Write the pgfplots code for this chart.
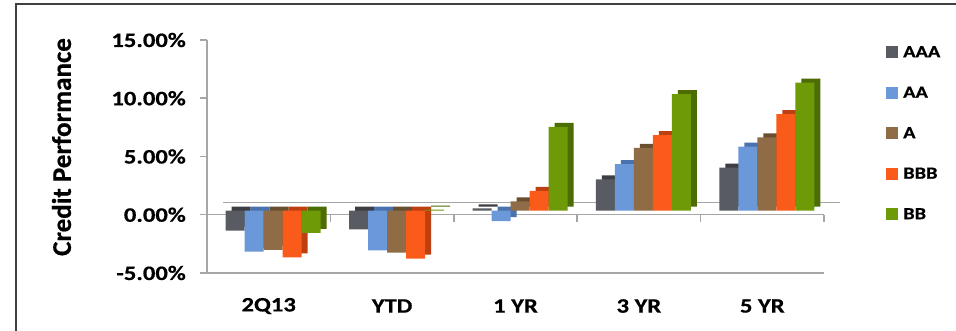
\documentclass[border=0pt]{standalone}
\usepackage{fontspec}
\setmainfont{Carlito}[BoldFeatures={FakeBold=0.6}]
\newfontfamily\widefont{Carlito}[FakeStretch=1.2, BoldFeatures={FakeBold=0.6}]
\usepackage{pgfplots}
\pgfplotsset{compat=1.18}
\definecolor{cAAA}{HTML}{585B61}
\definecolor{cAAAd}{HTML}{3C3E43}
\definecolor{cAA}{HTML}{6B98D8}
\definecolor{cAAd}{HTML}{4A72AE}
\definecolor{cA}{HTML}{8F6C45}
\definecolor{cAd}{HTML}{694E30}
\definecolor{cBBB}{HTML}{FA5A1A}
\definecolor{cBBBd}{HTML}{BE3F0F}
\definecolor{cBB}{HTML}{6F9A08}
\definecolor{cBBd}{HTML}{4C6D04}
\definecolor{axgray}{HTML}{A6A6A6}

\pgfplotstableread{
x AAA AA A BBB BB
0 -1.70 -3.50 -3.35 -4.00 -1.90
1 -1.60 -3.40 -3.60 -4.10 0.10
2 0.20 -0.90 0.80 1.70 7.20
3 2.70 4.00 5.40 6.50 10.00
4 3.70 5.50 6.30 8.30 11.00
}\credit

\begin{document}
\begin{tikzpicture}
\useasboundingbox (0,0) rectangle (956bp,331bp);
\fill[white] (0,0) rectangle (956bp,331bp);
\draw[line width=2bp, black!75] (16bp,-10bp) -- (16bp,327bp) -- (970bp,327bp);
\begin{axis}[
  at={(207bp,58bp)}, anchor=south west, scale only axis,
  width=617bp, height=233bp,
  xmin=-0.5, xmax=4.5, ymin=-5, ymax=15,
  axis x line=bottom, axis y line=left,
  axis line style={-, draw=axgray, line width=1.5bp},
  xtick={0,...,4}, xticklabels={2Q13,YTD,1 YR,3 YR,5 YR},
  x tick style={draw=none},
  ytick={-5,0,5,10,15},
  yticklabel={\pgfmathprintnumber[fixed,fixed zerofill,precision=2]{\tick}\%},
  y tick style={draw=axgray, line width=1.5bp},
  tick align=outside, major tick length=7bp,
  /pgf/number format/assume math mode=true,
  ticklabel style={font=\widefont\bfseries\fontsize{20.5bp}{24bp}\selectfont, inner sep=0pt},
  xticklabel style={anchor=center, yshift=-26bp},
  yticklabel style={anchor=east, xshift=-14bp},
  every axis y label/.style={at={(axis description cs:-0.2358,0.5408)}, rotate=90, anchor=center,
    font=\bfseries\fontsize{27bp}{30bp}\selectfont},
  ylabel={Credit Performance},
  clip=false,
  legend image code/.code={\fill[#1] (0bp,-7bp) rectangle (12bp,5bp);},
  legend cell align=left,
  legend style={at={(axis description cs:1.1005,0.9785)}, anchor=north west,
    draw=none, fill=none, inner sep=0pt, row sep=27.5bp, column sep=5bp,
    font=\widefont\bfseries\fontsize{17bp}{20bp}\selectfont,
    nodes={inner sep=0pt, text height=12bp, text depth=0pt}},
]
% back zero line and front zero line
\draw[axgray, line width=1.5bp] ([yshift=12bp]axis cs:-0.37,0) -- ([yshift=12bp]axis cs:4.63,0);
\draw[axgray, line width=1.5bp] ([xshift=-4bp]axis cs:-0.5,0) -- (axis cs:4.5,0);
\draw[axgray, line width=1.5bp] (axis cs:0.5,0) -- ([yshift=-7bp]axis cs:0.5,0);
\draw[axgray, line width=1.5bp] (axis cs:1.5,0) -- ([yshift=-7bp]axis cs:1.5,0);
\draw[axgray, line width=1.5bp] (axis cs:2.5,0) -- ([yshift=-7bp]axis cs:2.5,0);
\draw[axgray, line width=1.5bp] (axis cs:3.5,0) -- ([yshift=-7bp]axis cs:3.5,0);
\draw[axgray, line width=1.5bp] (axis cs:4.5,0) -- ([yshift=-7bp]axis cs:4.5,0);
% depth (side/top faces)
\addplot[ybar, bar width=19bp, bar shift=-27.5bp, yshift=8bp, fill=cAAAd, draw=none, forget plot] table[x=x,y=AAA] {\credit};
\addplot[ybar, bar width=19bp, bar shift=-8.5bp, yshift=8bp, fill=cAAd, draw=none, forget plot] table[x=x,y=AA] {\credit};
\addplot[ybar, bar width=19bp, bar shift=10.5bp, yshift=8bp, fill=cAd, draw=none, forget plot] table[x=x,y=A] {\credit};
\addplot[ybar, bar width=19bp, bar shift=29.5bp, yshift=8bp, fill=cBBBd, draw=none, forget plot] table[x=x,y=BBB] {\credit};
\addplot[ybar, bar width=19bp, bar shift=48.5bp, yshift=8bp, fill=cBBd, draw=none, forget plot] table[x=x,y=BB] {\credit};
% front faces
\addplot[ybar, bar width=19bp, bar shift=-33.5bp, yshift=4bp, fill=cAAA, draw=none, forget plot] table[x=x,y=AAA] {\credit};
\addplot[ybar, bar width=19bp, bar shift=-14.5bp, yshift=4bp, fill=cAA, draw=none, forget plot] table[x=x,y=AA] {\credit};
\addplot[ybar, bar width=19bp, bar shift=4.5bp, yshift=4bp, fill=cA, draw=none, forget plot] table[x=x,y=A] {\credit};
\addplot[ybar, bar width=19bp, bar shift=23.5bp, yshift=4bp, fill=cBBB, draw=none, forget plot] table[x=x,y=BBB] {\credit};
\addplot[ybar, bar width=19bp, bar shift=42.5bp, yshift=4bp, fill=cBB, draw=none, forget plot] table[x=x,y=BB] {\credit};
% legend
\addlegendimage{fill=cAAA, draw=none}\addlegendentry{AAA}
\addlegendimage{fill=cAA, draw=none}\addlegendentry{AA}
\addlegendimage{fill=cA, draw=none}\addlegendentry{A}
\addlegendimage{fill=cBBB, draw=none}\addlegendentry{BBB}
\addlegendimage{fill=cBB, draw=none}\addlegendentry{BB}
\end{axis}
\end{tikzpicture}
\end{document}
